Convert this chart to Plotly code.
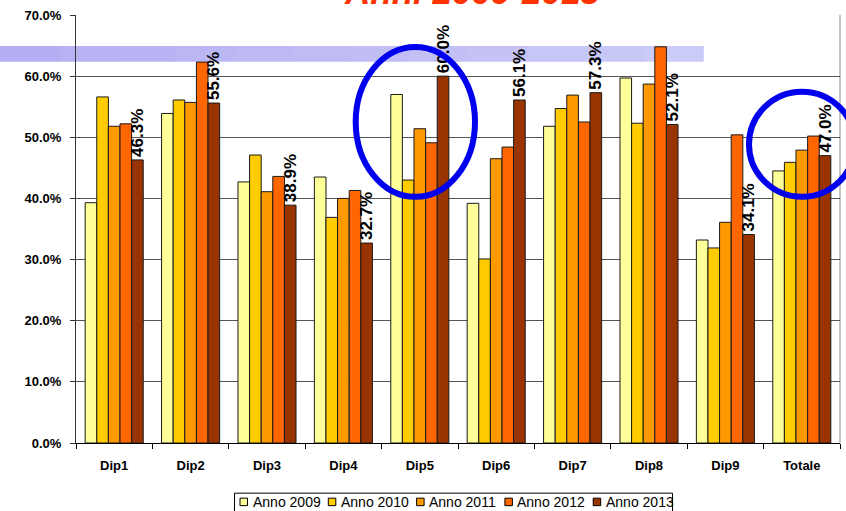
import plotly.graph_objects as go

categories = ["Dip1", "Dip2", "Dip3", "Dip4", "Dip5", "Dip6", "Dip7", "Dip8", "Dip9", "Totale"]
series_names = ["Anno 2009", "Anno 2010", "Anno 2011", "Anno 2012", "Anno 2013"]
anno_2009 = [39.3, 53.9, 42.7, 43.5, 57.0, 39.2, 51.8, 59.7, 33.2, 44.5]
anno_2010 = [56.6, 56.1, 47.1, 36.9, 43.0, 30.1, 54.7, 52.3, 31.9, 45.9]
anno_2011 = [51.8, 55.7, 41.1, 40.0, 51.4, 46.5, 56.9, 58.7, 36.1, 47.9]
anno_2012 = [52.2, 62.3, 43.6, 41.3, 49.1, 48.4, 52.5, 64.8, 50.4, 50.2]
anno_2013 = [46.3, 55.6, 38.9, 32.7, 60.0, 56.1, 57.3, 52.1, 34.1, 47.0]
colors = ["#FFFF99", "#FFCC00", "#FF9900", "#FF6600", "#993300"]
y_ticks = [0, 10, 20, 30, 40, 50, 60, 70]

FONT = "Liberation Sans, Arial, sans-serif"

W, H = 846, 511
L, R, T, B = 76, 840, 15, 443.3


def px(x):
    return (x - L) / (R - L)


def py(y):
    return (B - y) / (B - T)


fig = go.Figure()
all_series = [anno_2009, anno_2010, anno_2011, anno_2012, anno_2013]
for i, (name, vals) in enumerate(zip(series_names, all_series)):
    kw = {}
    if i == 4:
        kw = dict(
            text=[f"<b>{v:.1f}%</b>" for v in vals],
            textposition="outside",
            textangle=-90,
            constraintext="none",
            textfont=dict(family=FONT, size=17, color="black"),
            cliponaxis=False,
        )
    fig.add_trace(go.Bar(
        x=categories, y=vals, name=name, showlegend=False,
        marker=dict(color=colors[i], line=dict(color="#1a1a1a", width=1)),
        **kw,
    ))

shapes = []
annotations = []
# gradient band
c0 = (0xB6, 0xAE, 0xF2)
c1 = (0xCA, 0xCB, 0xF8)
nseg = 12
x0, x1 = 0, 703
for k in range(nseg):
    t = k / (nseg - 1)
    c = tuple(round(c0[j] + (c1[j] - c0[j]) * t) for j in range(3))
    xa = x0 + (x1 - x0) * k / nseg
    xb = x0 + (x1 - x0) * (k + 1) / nseg
    shapes.append(dict(type="rect", xref="paper", yref="paper",
                       x0=px(xa), x1=px(xb) + 0.001, y0=py(61.7), y1=py(46),
                       fillcolor="rgb(%d,%d,%d)" % c, line=dict(width=0), layer="below"))
# ellipses
shapes.append(dict(type="circle", xref="paper", yref="paper",
                   x0=px(355.7), x1=px(475), y0=py(197), y1=py(47),
                   line=dict(color="#0000EE", width=6), layer="above"))
shapes.append(dict(type="circle", xref="paper", yref="paper",
                   x0=px(749), x1=px(855), y0=py(197), y1=py(91.7),
                   line=dict(color="#0000EE", width=6), layer="above"))
# right border
shapes.append(dict(type="line", xref="paper", yref="paper", x0=1, x1=1, y0=0, y1=1,
                   line=dict(color="#888888", width=1), layer="below"))

# legend (box, swatches, labels)
shapes.append(dict(type="rect", xref="paper", yref="paper",
                   x0=px(234.5), x1=px(672.5), y0=py(520), y1=py(493.5),
                   fillcolor="white", line=dict(color="black", width=1), layer="above"))
pitch = 88.3
for i, name in enumerate(series_names):
    sx = 240 + pitch * i
    shapes.append(dict(type="rect", xref="paper", yref="paper",
                       x0=px(sx), x1=px(sx + 7.5), y0=py(506), y1=py(498.5),
                       fillcolor=colors[i], line=dict(color="black", width=1), layer="above"))
    annotations.append(dict(text=name, xref="paper", yref="paper",
                            x=px(sx + 10.5), y=py(502), xanchor="left", yanchor="middle",
                            showarrow=False, font=dict(size=14, family=FONT, color="black")))

annotations.append(dict(text="<b><i>Anni 2009-2013</i></b>", xref="paper", yref="paper",
                        x=px(471.5), y=py(12.5), xanchor="center", yanchor="bottom",
                        showarrow=False, font=dict(size=35, color="#FF3300", family=FONT)))

fig.update_layout(
    width=W, height=H,
    margin=dict(l=L, r=W - R, t=T, b=H - B, autoexpand=False),
    paper_bgcolor="white", plot_bgcolor="white",
    barmode="group", bargap=0.24, bargroupgap=0,
    font=dict(family=FONT, size=12, color="black"),
    shapes=shapes,
    annotations=annotations,
    showlegend=False,
)
fig.update_xaxes(
    automargin=False,
    showline=True, linecolor="black", linewidth=1, mirror=False,
    ticks="outside", tickson="boundaries", ticklen=5, tickcolor="black",
    ticklabelstandoff=10,
    tickfont=dict(family=FONT, size=13, color="black", weight="bold"),
    showgrid=False,
)
fig.update_yaxes(
    automargin=False,
    range=[0, 70], tickvals=y_ticks, ticktext=[f"{v:.1f}%" for v in y_ticks],
    showline=True, linecolor="#333333", linewidth=1,
    ticks="outside", ticklen=5, tickcolor="#333333",
    ticklabelstandoff=6,
    tickfont=dict(family=FONT, size=13, color="black", weight="bold"),
    showgrid=True, gridcolor="#555555", gridwidth=1, zeroline=False,
)

fig.write_html(
    "out.html",
    config={"displayModeBar": False},
    post_script="document.body.style.margin='0';document.body.style.overflow='hidden';",
)
